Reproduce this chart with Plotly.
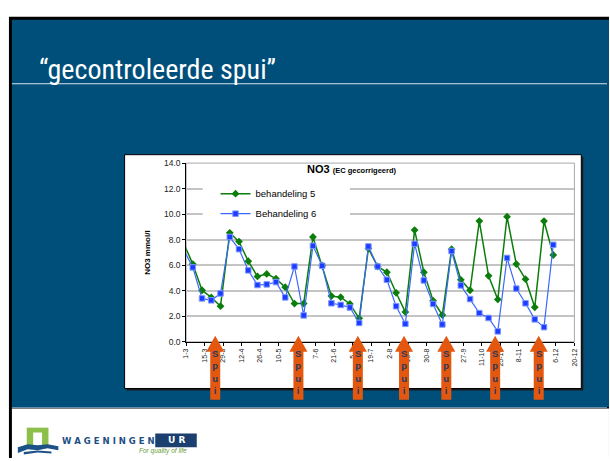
import plotly.graph_objects as go

W, H = 610, 461

# ---------------- data ----------------
dates = ["2007-02-27", "2007-03-06", "2007-03-13", "2007-03-20", "2007-03-27",
         "2007-04-03", "2007-04-10", "2007-04-17", "2007-04-24", "2007-05-01",
         "2007-05-08", "2007-05-15", "2007-05-22", "2007-05-29", "2007-06-05",
         "2007-06-12", "2007-06-19", "2007-06-26", "2007-07-03", "2007-07-10",
         "2007-07-17", "2007-07-24", "2007-07-31", "2007-08-07", "2007-08-14",
         "2007-08-21", "2007-08-28", "2007-09-04", "2007-09-11", "2007-09-18",
         "2007-09-25", "2007-10-02", "2007-10-09", "2007-10-16", "2007-10-23",
         "2007-10-30", "2007-11-06", "2007-11-13", "2007-11-20", "2007-11-27",
         "2007-12-04"]

behandeling5 = [7.75, 6.09, 4.04, 3.48, 2.79, 8.54, 7.85, 6.32, 5.12, 5.32,
                4.95, 4.28, 3.00, 3.00, 8.21, 5.96, 3.58, 3.50, 2.97, 1.84,
                7.31, 5.90, 5.45, 3.84, 2.33, 8.75, 5.45, 3.22, 2.10, 7.26,
                4.86, 4.04, 9.46, 5.17, 3.32, 9.80, 6.09, 4.91, 2.71, 9.46,
                6.80]

behandeling6 = [7.25, 5.83, 3.40, 3.25, 3.79, 8.21, 7.26, 5.60, 4.45, 4.50,
                4.68, 3.48, 5.90, 2.07, 7.52, 5.96, 3.02, 2.89, 2.69, 1.48,
                7.47, 5.90, 4.86, 2.79, 1.41, 7.67, 4.81, 2.97, 1.36, 7.11,
                4.42, 3.35, 2.25, 1.87, 0.82, 6.57, 4.17, 3.02, 1.76, 1.15,
                7.60]

tick_dates = ["2007-03-01", "2007-03-15", "2007-03-29", "2007-04-12", "2007-04-26",
              "2007-05-10", "2007-05-24", "2007-06-07", "2007-06-21", "2007-07-05",
              "2007-07-19", "2007-08-02", "2007-08-16", "2007-08-30", "2007-09-13",
              "2007-09-27", "2007-10-11", "2007-10-25", "2007-11-08", "2007-11-22",
              "2007-12-06", "2007-12-20"]
tick_labels = ["1-3", "15-3", "29-3", "12-4", "26-4", "10-5", "24-5", "7-6", "21-6",
               "5-7", "19-7", "2-8", "16-8", "30-8", "13-9", "27-9", "11-10", "25-10",
               "8-11", "22-11", "6-12", "20-12"]

spui_dates = ["2007-03-23", "2007-05-25", "2007-07-09", "2007-08-13",
              "2007-09-14", "2007-10-21", "2007-11-23"]
spui_label = "S<br>p<br>u<br>i"

slide_title = "\u201cgecontroleerde spui\u201d"
chart_title = "<b>NO3</b> <b><span style='font-size:7.5px'>(EC gecorrigeerd)</span></b>"
y_title = "<b>NO3 mmol/l</b>"

# ---------------- helpers (pixel -> paper) ----------------
def fx(x):
    return x / W

def fy(y):
    return 1 - y / H

def rect(x0, y0, x1, y1, fill, line_color=None, line_width=0, layer="below"):
    return dict(type="rect", xref="paper", yref="paper",
                x0=fx(x0), x1=fx(x1), y0=fy(y0), y1=fy(y1),
                fillcolor=fill, layer=layer,
                line=dict(color=line_color or fill, width=line_width))

def path(points, fill, layer="below"):
    d = "M" + " L".join(f"{fx(x):.5f},{fy(y):.5f}" for x, y in points) + " Z"
    return dict(type="path", xref="paper", yref="paper", path=d,
                fillcolor=fill, line=dict(width=0), layer=layer)

BLUE_BG = "#004f7b"
ORANGE = "#e4570f"

fig = go.Figure()

fig.add_trace(go.Scatter(
    x=dates, y=behandeling5, name="behandeling 5", mode="lines+markers",
    line=dict(color="#0a7d0a", width=1.5),
    marker=dict(symbol="diamond", size=6, color="#0a7d0a"),
    cliponaxis=False, legendgroup="a"))
fig.add_trace(go.Scatter(
    x=dates, y=behandeling6, name="Behandeling 6", mode="lines+markers",
    line=dict(color="#3a68ff", width=1.2),
    marker=dict(symbol="square", size=5.5, color="#1c3cff",
                line=dict(color="#7c98ff", width=1)),
    cliponaxis=False, legendgroup="b"))

shapes = []
# slide background
shapes.append(rect(5, 12, W + 2, H + 2, "#000000"))
shapes.append(rect(8, 15, W + 2, 411, BLUE_BG))
shapes.append(rect(8, 412.5, W + 2, H + 2, "#ffffff"))
shapes.append(dict(type="line", xref="paper", yref="paper", x0=fx(8), x1=fx(W),
                   y0=fy(411.5), y1=fy(411.5), line=dict(color="#6f9ab8", width=1),
                   layer="below"))
# title separator
shapes.append(dict(type="line", xref="paper", yref="paper", x0=fx(8), x1=fx(W),
                   y0=fy(80.5), y1=fy(80.5), line=dict(color="#d5e4ee", width=1),
                   layer="below"))
# chart box with shadow
shapes.append(rect(124, 155, 586, 394, "#1a1a1a"))
shapes.append(rect(122, 153, 584, 392, "#ffffff", "#000000", 1))
# plot area border (grey)
shapes.append(dict(type="rect", xref="x domain", yref="y domain", x0=0, x1=1, y0=0, y1=1,
                   line=dict(color="#a8a8a8", width=1), layer="below"))
# white patch behind the legend (hides grid lines like the reference)
shapes.append(rect(201, 177, 350, 223, "#ffffff", layer="above"))

# spui arrows (pixel-sized, anchored at the date on the x axis)
arrow_path = "M0,0 L9,-16 L5,-16 L5,-64 L-5,-64 L-5,-16 L-9,-16 Z"
for d in spui_dates:
    shapes.append(dict(type="path", xref="x", yref="paper",
                       xsizemode="pixel", ysizemode="pixel",
                       xanchor=d, yanchor=fy(338), path=arrow_path,
                       fillcolor=ORANGE, line=dict(width=0), layer="above"))

# logo
shapes.append(rect(23, 432, 45, 451, "#8cc04a"))
shapes.append(rect(29.5, 437, 38.5, 451, "#ffffff"))
shapes.append(path([(14, 452), (24, 449), (34, 450), (44, 449), (55, 451), (55, 455),
                    (44, 453), (34, 455), (24, 454), (14, 458)], "#1d5286"))
shapes.append(path([(20, 457), (34, 455.5), (48, 456.5), (48, 458.5), (34, 457.5), (20, 459.5)],
                   "#1d5286"))
shapes.append(rect(153, 438, 195, 452, "#1b3f6f"))

annotations = []
annotations.append(dict(text=slide_title, xref="paper", yref="paper", x=fx(33), y=fy(66),
                        xanchor="left", yanchor="middle", showarrow=False,
                        font=dict(family="Liberation Sans Narrow, Roboto Condensed, Arial Narrow, sans-serif",
                                  size=28, color="#ffffff")))
annotations.append(dict(text=chart_title, xref="paper", yref="paper", x=fx(352), y=fy(168),
                        xanchor="center", yanchor="middle", showarrow=False,
                        font=dict(family="Liberation Sans, Arial, sans-serif", size=11,
                                  color="#000000")))
annotations.append(dict(text=y_title, xref="paper", yref="paper", x=fx(145), y=fy(253),
                        xanchor="center", yanchor="middle", showarrow=False, textangle=-90,
                        font=dict(family="Liberation Sans, Arial, sans-serif", size=8,
                                  color="#000000")))
for d in spui_dates:
    annotations.append(dict(text=spui_label, xref="x", yref="paper", x=d, y=fy(375),
                            xanchor="center", yanchor="middle", showarrow=False,
                            font=dict(family="Liberation Sans, Arial, sans-serif", size=9.5,
                                      color="#243a62", weight="bold")))
annotations.append(dict(text="<b>W A G E N I N G E N</b>", xref="paper", yref="paper",
                        x=fx(57), y=fy(445.5), xanchor="left", yanchor="middle",
                        showarrow=False,
                        font=dict(family="DejaVu Sans, sans-serif", size=8.5, color="#1e4f83")))
annotations.append(dict(text="<b>U R</b>", xref="paper", yref="paper",
                        x=fx(174), y=fy(445), xanchor="center", yanchor="middle",
                        showarrow=False,
                        font=dict(family="DejaVu Sans, sans-serif", size=9, color="#ffffff")))
annotations.append(dict(text="<i>For quality of life</i>", xref="paper", yref="paper",
                        x=fx(161), y=fy(456), xanchor="center", yanchor="middle",
                        showarrow=False,
                        font=dict(family="Liberation Sans, Arial, sans-serif", size=6.5,
                                  color="#6a9e3a")))

fig.update_layout(
    width=W, height=H, autosize=False,
    margin=dict(l=0, r=0, t=0, b=0),
    paper_bgcolor="#ffffff", plot_bgcolor="rgba(0,0,0,0)",
    showlegend=True,
    legend=dict(x=fx(214), y=fy(178), xanchor="left", yanchor="top",
                bgcolor="rgba(0,0,0,0)", tracegroupgap=1,
                font=dict(family="Liberation Sans, Arial, sans-serif", size=9.5,
                          color="#000000"),
                itemwidth=30),
    xaxis=dict(domain=[fx(184.3), fx(577)], type="date",
               range=["2007-03-01", "2007-12-20"],
               tickmode="array", tickvals=tick_dates, ticktext=tick_labels,
               tickangle=-90, ticks="outside", ticklen=3, tickcolor="#000000",
               showline=True, linecolor="#000000", linewidth=1,
               showgrid=False, zeroline=False,
               tickfont=dict(family="Liberation Sans, Arial, sans-serif", size=7,
                             color="#222222")),
    yaxis=dict(domain=[fy(344.3), fy(161.6)], range=[0, 14], dtick=2,
               tickformat=".1f", ticks="outside", ticklen=3, tickcolor="#000000",
               showline=True, linecolor="#000000", linewidth=1,
               showgrid=True, gridcolor="#c4c4c4", gridwidth=1.5, zeroline=False,
               tickfont=dict(family="Liberation Sans, Arial, sans-serif", size=8.5,
                             color="#222222")),
    shapes=shapes, annotations=annotations,
)

fig.write_html("out.html", post_script="document.body.style.margin='0';",
               config={"displayModeBar": False})
